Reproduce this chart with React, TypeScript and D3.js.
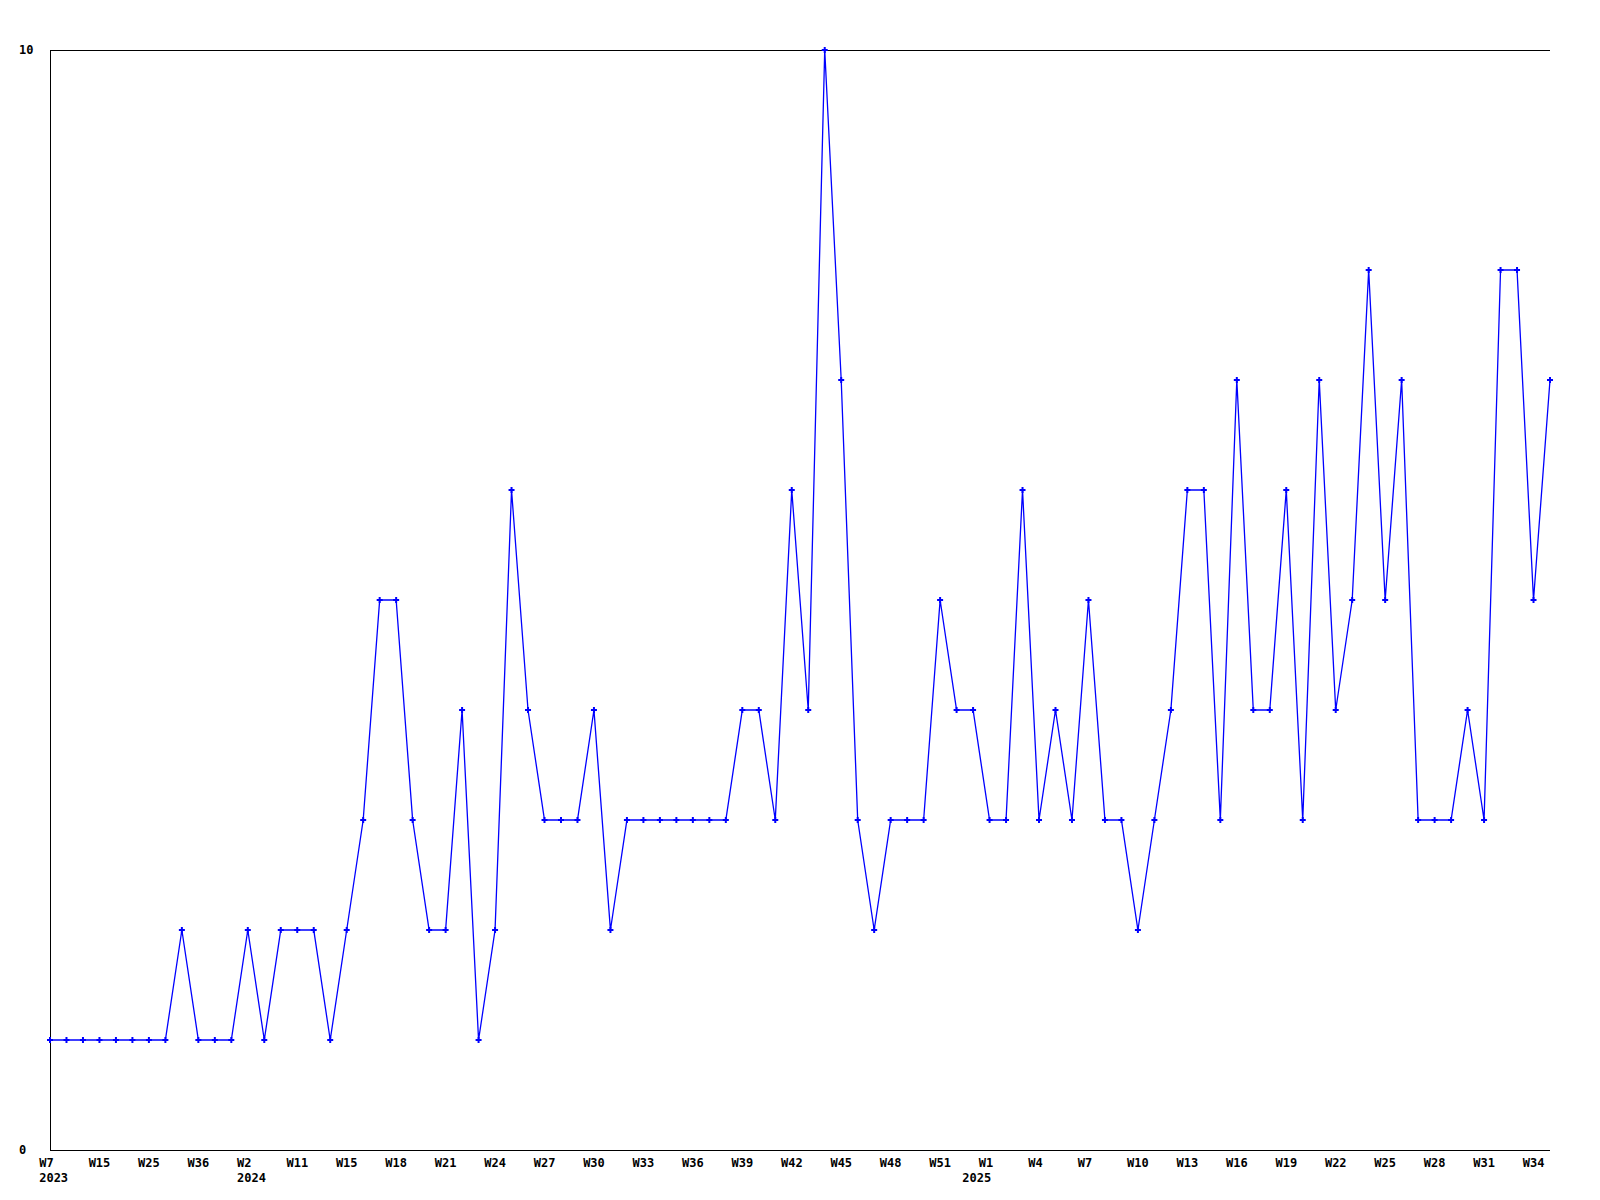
import * as d3 from "d3";
import React, { useRef, useEffect } from "react";

// weekly counts, one per point
const values: number[] = [
  1, 1, 1, 1, 1, 1, 1, 1, 2, 1,
  1, 1, 2, 1, 2, 2, 2, 1, 2, 3,
  5, 5, 3, 2, 2, 4, 1, 2, 6, 4,
  3, 3, 3, 4, 2, 3, 3, 3, 3, 3,
  3, 3, 4, 4, 3, 6, 4, 10, 7, 3,
  2, 3, 3, 3, 5, 4, 4, 3, 3, 6,
  3, 4, 3, 5, 3, 3, 2, 3, 4, 6,
  6, 3, 7, 4, 4, 6, 3, 7, 4, 5,
  8, 5, 7, 3, 3, 3, 4, 3, 8, 8,
  5, 7,
];

// x tick labels and the point they sit under
const tickIdx: number[] = [
  0, 3, 6, 9, 12, 15, 18, 21, 24, 27, 30, 33, 36, 39, 42, 45, 48, 51, 54, 57,
  60, 63, 66, 69, 72, 75, 78, 81, 84, 87, 90,
];
const tickLabels: string[] = [
  "W7", "W15", "W25", "W36", "W2", "W11", "W15", "W18", "W21", "W24", "W27",
  "W30", "W33", "W36", "W39", "W42", "W45", "W48", "W51", "W1", "W4", "W7",
  "W10", "W13", "W16", "W19", "W22", "W25", "W28", "W31", "W34",
];
const yearIdx: number[] = [0, 12, 56];
const yearLabels: string[] = ["2023", "2024", "2025"];

const yTicks: number[] = [0, 10];

const W = 1600;
const H = 1200;
const left = 50;
const right = 1550;
const top = 50;
const bottom = 1150;
const font = "'DejaVu Sans Mono', monospace";

const App: React.FC = () => {
  const svgRef = useRef<SVGSVGElement>(null);

  useEffect(() => {
    if (!svgRef.current) return;
    const svg = d3.select(svgRef.current);
    svg.selectAll("*").remove();

    const x = d3.scaleLinear().domain([0, values.length - 1]).range([left, right]);
    const y = d3.scaleLinear().domain([0, 10]).range([bottom, top]);

    // frame: left, bottom and top line
    const g = svg.append("g").attr("shape-rendering", "crispEdges");
    g.append("line")
      .attr("x1", left).attr("x2", left)
      .attr("y1", y(10)).attr("y2", y(0))
      .attr("stroke", "#000");
    g.append("line")
      .attr("x1", left).attr("x2", right)
      .attr("y1", y(0)).attr("y2", y(0))
      .attr("stroke", "#000");
    g.append("line")
      .attr("x1", left).attr("x2", right)
      .attr("y1", y(10)).attr("y2", y(10))
      .attr("stroke", "#000");

    svg
      .append("g")
      .selectAll("text")
      .data(yTicks)
      .join("text")
      .attr("x", 19)
      .attr("y", (d) => y(d))
      .attr("dy", "0.35em")
      .attr("font-family", font)
      .attr("font-weight", "bold")
      .attr("font-size", 12)
      .text((d) => String(d));

    svg
      .append("g")
      .selectAll("text")
      .data(tickIdx)
      .join("text")
      .attr("x", (d) => x(d) - 10.8)
      .attr("y", 1167)
      .attr("font-family", font)
      .attr("font-weight", "bold")
      .attr("font-size", 12)
      .text((d, i) => tickLabels[i]);

    svg
      .append("g")
      .selectAll("text")
      .data(yearIdx)
      .join("text")
      .attr("x", (d) => x(d) - 10.8)
      .attr("y", 1182)
      .attr("font-family", font)
      .attr("font-weight", "bold")
      .attr("font-size", 12)
      .text((d, i) => yearLabels[i]);

    const line = d3
      .line<number>()
      .x((d, i) => x(i))
      .y((d) => y(d));

    svg
      .append("path")
      .datum(values)
      .attr("fill", "none")
      .attr("stroke", "#0000ff")
      .attr("stroke-width", 1.3)
      .attr("d", line);

    const sym = d3.symbol().type(d3.symbolCross).size(20);
    svg
      .append("g")
      .selectAll("path")
      .data(values)
      .join("path")
      .attr("transform", (d, i) => `translate(${x(i)},${y(d)})`)
      .attr("fill", "#0000ff")
      .attr("d", sym);
  }, []);

  return (
    <svg
      ref={svgRef}
      width={W}
      height={H}
      style={{ position: "absolute", left: 0, top: 0, background: "#fff" }}
    ></svg>
  );
};

export default App;
